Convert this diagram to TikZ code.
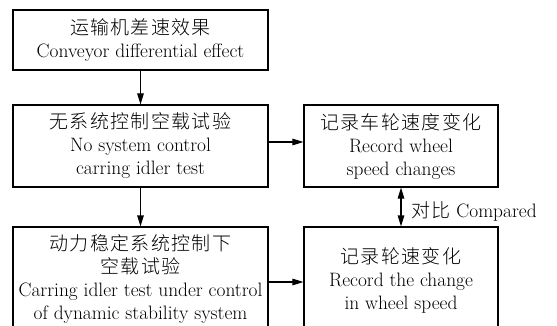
\documentclass[tikz,border=0pt]{standalone}
\usepackage{fontspec}
\newfontfamily\cjk[LetterSpace=7]{Noto Sans CJK SC Light}
\usetikzlibrary{arrows.meta}
\newcommand\zh[1]{{\cjk\fontsize{19}{23}\selectfont #1}}
\tikzset{
  box/.style={draw, line width=1.1pt, align=center, inner sep=0pt,
    font=\fontsize{19.4}{23}\selectfont},
  arr/.style={-{Triangle[length=11pt,width=6.5pt]}, line width=1.1pt},
  arrboth/.style={{Triangle[length=11pt,width=6.5pt]}-{Triangle[length=11pt,width=6.5pt]}, line width=1.1pt},
  lbl/.style={inner sep=0pt, font=\fontsize{19.4}{23}\selectfont}
}
\begin{document}
\begin{tikzpicture}[x=1pt,y=-1pt]
\useasboundingbox (0,0) rectangle (557,326);
\clip (0,0) rectangle (557,326);
\node[box, minimum width=255pt, minimum height=60pt] (b1) at (140.5,40)
  {\zh{运输机差速效果}\\Conveyor differential effect};
\node[box, minimum width=255pt, minimum height=82pt] (b2) at (140.5,146)
  {\zh{无系统控制空载试验}\\No system control\\carring idler test};
\node[box, minimum width=194pt, minimum height=82pt] (b3) at (401,146)
  {\zh{记录车轮速度变化}\\Record wheel\\speed changes};
\node[box, minimum width=255pt, minimum height=103pt] (b5) at (140.5,278.5)
  {\zh{动力稳定系统控制下}\\\zh{空载试验}\\Carring idler test under control\\of dynamic stability system};
\node[box, minimum width=194pt, minimum height=106pt] (b4) at (401,280)
  {\zh{记录轮速变化}\\Record the change\\in wheel speed};
\draw[arr] (b1) -- (b2);
\draw[arr] (b2) -- (b5);
\draw[arr] ([yshift=4pt]b2.east) -- ([yshift=4pt]b3.west);
\draw[arr] ([yshift=-2pt]b4.west -| b5.east) -- ([yshift=-2pt]b4.west);
\draw[arrboth] (b3.south) -- (b4.north);
\node[lbl, anchor=west] (cmp) at (411,211) {\zh{对比} Compared};
\end{tikzpicture}
\end{document}
